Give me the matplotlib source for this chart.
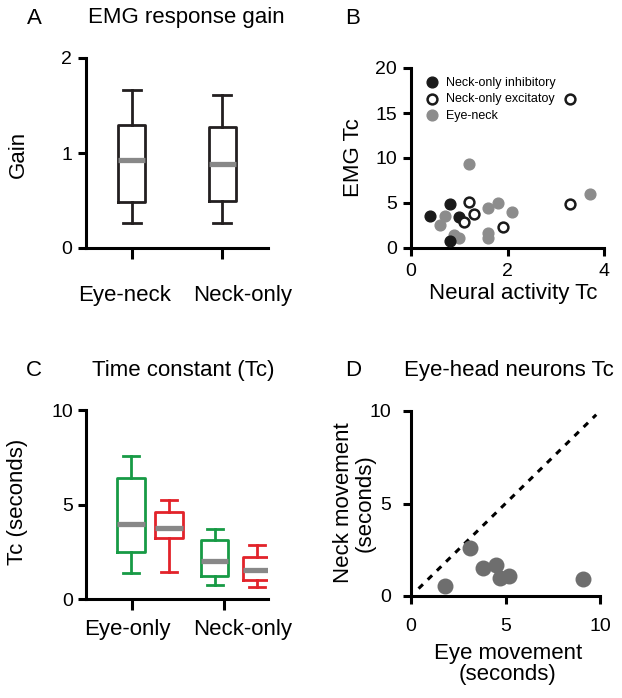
import matplotlib.pyplot as plt
from matplotlib.transforms import ScaledTranslation

plt.rcParams['font.family'] = ['Liberation Sans', 'DejaVu Sans']

# ---- Panel A: EMG response gain (box summaries) ----
gain_groups = ['Eye-neck', 'Neck-only']
gain_med = [0.93, 0.88]
gain_q1 = [0.48, 0.49]
gain_q3 = [1.29, 1.27]
gain_lo = [0.26, 0.26]
gain_hi = [1.66, 1.61]

# ---- Panel B: EMG Tc vs neural activity Tc ----
inh_x = [0.4, 0.8, 1.0, 0.8]
inh_y = [3.6, 4.9, 3.4, 0.8]
exc_x = [3.3, 3.3, 1.2, 1.3, 1.1, 1.9]
exc_y = [16.6, 4.9, 5.1, 3.8, 2.9, 2.3]
eyeneck_x = [1.2, 3.7, 1.6, 1.8, 2.1, 0.7, 0.6, 0.9, 1.0, 1.6, 1.6]
eyeneck_y = [9.3, 6.0, 4.4, 5.0, 4.0, 3.5, 2.6, 1.4, 1.1, 1.7, 1.1]

# ---- Panel C: time constant (box summaries) ----
tc_groups = ['Eye-only', 'Neck-only']
tc_med = [3.97, 3.79, 2.04, 1.55]
tc_q1 = [2.49, 3.23, 1.23, 1.02]
tc_q3 = [6.43, 4.63, 3.14, 2.24]
tc_lo = [1.41, 1.46, 0.74, 0.67]
tc_hi = [7.58, 5.22, 3.72, 2.87]

# ---- Panel D: eye-head neurons Tc ----
eye_tc = [1.8, 3.1, 3.8, 4.5, 4.7, 5.2, 9.1]
neck_tc = [0.55, 2.6, 1.5, 1.7, 1.0, 1.1, 0.9]

dark = '#231f20'
green = '#179a45'
red = '#e2232a'
W, H = 622, 698


def px_axes(x0, x1, y_top, y_bot):
    return fig.add_axes([x0 / W, 1 - y_bot / H, (x1 - x0) / W, (y_bot - y_top) / H])


def style(ax):
    for s in ['top', 'right']:
        ax.spines[s].set_visible(False)
    for s in ['left', 'bottom']:
        ax.spines[s].set_linewidth(2.2)
        ax.spines[s].set_color('black')
    ax.tick_params(width=2.2, direction='out', labelsize=14)


def box_stats(med, q1, q3, lo, hi):
    return [dict(med=m, q1=a, q3=b, whislo=l, whishi=h)
            for m, a, b, l, h in zip(med, q1, q3, lo, hi)]


def shift_xlabels(ax, offsets):
    # labels in the original sit off-centre from their ticks
    for lbl, dx in zip(ax.get_xticklabels(), offsets):
        lbl.set_transform(lbl.get_transform() +
                          ScaledTranslation(dx / 100, 0, fig.dpi_scale_trans))


fig = plt.figure(figsize=(6.22, 6.98), dpi=100)

# A
axA = px_axes(86, 268, 58, 248)
style(axA)
axA.bxp(box_stats(gain_med, gain_q1, gain_q3, gain_lo, gain_hi),
        positions=[1, 2], widths=0.3, capwidths=0.19, showfliers=False,
        boxprops=dict(color=dark, linewidth=2.0),
        whiskerprops=dict(color=dark, linewidth=2.0),
        capprops=dict(color=dark, linewidth=2.0),
        medianprops=dict(color='#888888', linewidth=3.8, solid_capstyle='butt'))
axA.set_xlim(0.49, 2.51)
axA.set_ylim(0, 2)
axA.set_yticks([0, 1, 2])
axA.set_xticks([1, 2])
axA.set_xticklabels(gain_groups, fontsize=16)
axA.tick_params(axis='x', length=8, pad=19)
axA.tick_params(axis='y', length=6, pad=4)
shift_xlabels(axA, [-7, 21])
axA.set_ylabel('Gain', fontsize=16, va='center')
axA.yaxis.set_label_coords(-0.374, 0.49)

# B
axB = px_axes(411, 604, 68, 248)
style(axB)
axB.scatter(eyeneck_x, eyeneck_y, s=60, color='#8c8c8c', label='Eye-neck',
            zorder=2, clip_on=False)
axB.scatter(inh_x, inh_y, s=60, color='#1a1a1a', label='Neck-only inhibitory',
            zorder=3, clip_on=False)
axB.scatter(exc_x, exc_y, s=50, facecolor='white', edgecolor='#1a1a1a',
            linewidths=1.8, label='Neck-only excitatoy', zorder=4, clip_on=False)
axB.set_xlim(0, 4)
axB.set_ylim(0, 20)
axB.set_xticks([0, 2, 4])
axB.set_yticks([0, 5, 10, 15, 20])
axB.tick_params(axis='both', length=6, pad=4)
axB.tick_params(axis='x', pad=5)
h, l = axB.get_legend_handles_labels()
axB.legend([h[1], h[2], h[0]], [l[1], l[2], l[0]], loc='upper left',
           bbox_to_anchor=(0.03, 1.0), frameon=False, fontsize=9,
           handlelength=1.0, handletextpad=0.6, labelspacing=0.35,
           borderpad=0.2)
axB.set_ylabel('EMG Tc', fontsize=16, va='center')
axB.yaxis.set_label_coords(-0.30, 0.5)
axB.set_xlabel('Neural activity Tc', fontsize=16, va='center')
axB.xaxis.set_label_coords(0.528, -0.255)

# C
axC = px_axes(86, 268, 410, 599.3)
style(axC)
tc_pos = [0.99, 1.40, 1.90, 2.36]
tc_cols = [green, red, green, red]
for st, p, c in zip(box_stats(tc_med, tc_q1, tc_q3, tc_lo, tc_hi), tc_pos, tc_cols):
    axC.bxp([st], positions=[p], widths=0.3, capwidths=0.17, showfliers=False,
            boxprops=dict(color=c, linewidth=2.0),
            whiskerprops=dict(color=c, linewidth=2.0),
            capprops=dict(color=c, linewidth=2.0),
            medianprops=dict(color='#888888', linewidth=3.8, solid_capstyle='butt'))
axC.set_xlim(0.5, 2.48)
axC.set_ylim(0, 10)
axC.set_yticks([0, 5, 10])
axC.set_xticks([1, 2])
axC.set_xticklabels(tc_groups, fontsize=16)
axC.tick_params(axis='x', length=8, pad=6)
axC.tick_params(axis='y', length=6, pad=3)
shift_xlabels(axC, [-5, 19])
axC.set_ylabel('Tc (seconds)', fontsize=16, va='center')
axC.yaxis.set_label_coords(-0.379, 0.514)

# D
axD = px_axes(411, 600, 411, 596)
style(axD)
axD.plot([0.4, 9.8], [0.4, 9.8], color='black', linewidth=2.2,
         linestyle=(0, (2, 2.2)))
axD.scatter(eye_tc, neck_tc, s=110, color='#6e6e6e', zorder=3, clip_on=False)
axD.set_xlim(0, 10)
axD.set_ylim(0, 10)
axD.set_xticks([0, 5, 10])
axD.set_yticks([0, 5, 10])
axD.tick_params(axis='x', length=6, pad=10)
axD.tick_params(axis='y', length=6, pad=8)
axD.set_ylabel('Neck movement\n(seconds)', fontsize=16, va='center',
               linespacing=1.0)
axD.yaxis.set_label_coords(-0.30, 0.503)
axD.set_xlabel('Eye movement\n(seconds)', fontsize=16, va='center',
               linespacing=1.0)
axD.xaxis.set_label_coords(0.513, -0.365)

# panel letters and titles
for x, y, s in [(34, 18, 'A'), (353, 18, 'B'), (34, 370, 'C'), (353, 370, 'D'),
                (186, 18, 'EMG response gain'), (183, 370, 'Time constant (Tc)'),
                (509, 370, 'Eye-head neurons Tc')]:
    fig.text(x / W, 1 - y / H, s, fontsize=16, ha='center', va='center')

fig.savefig('out.png', dpi=100)
